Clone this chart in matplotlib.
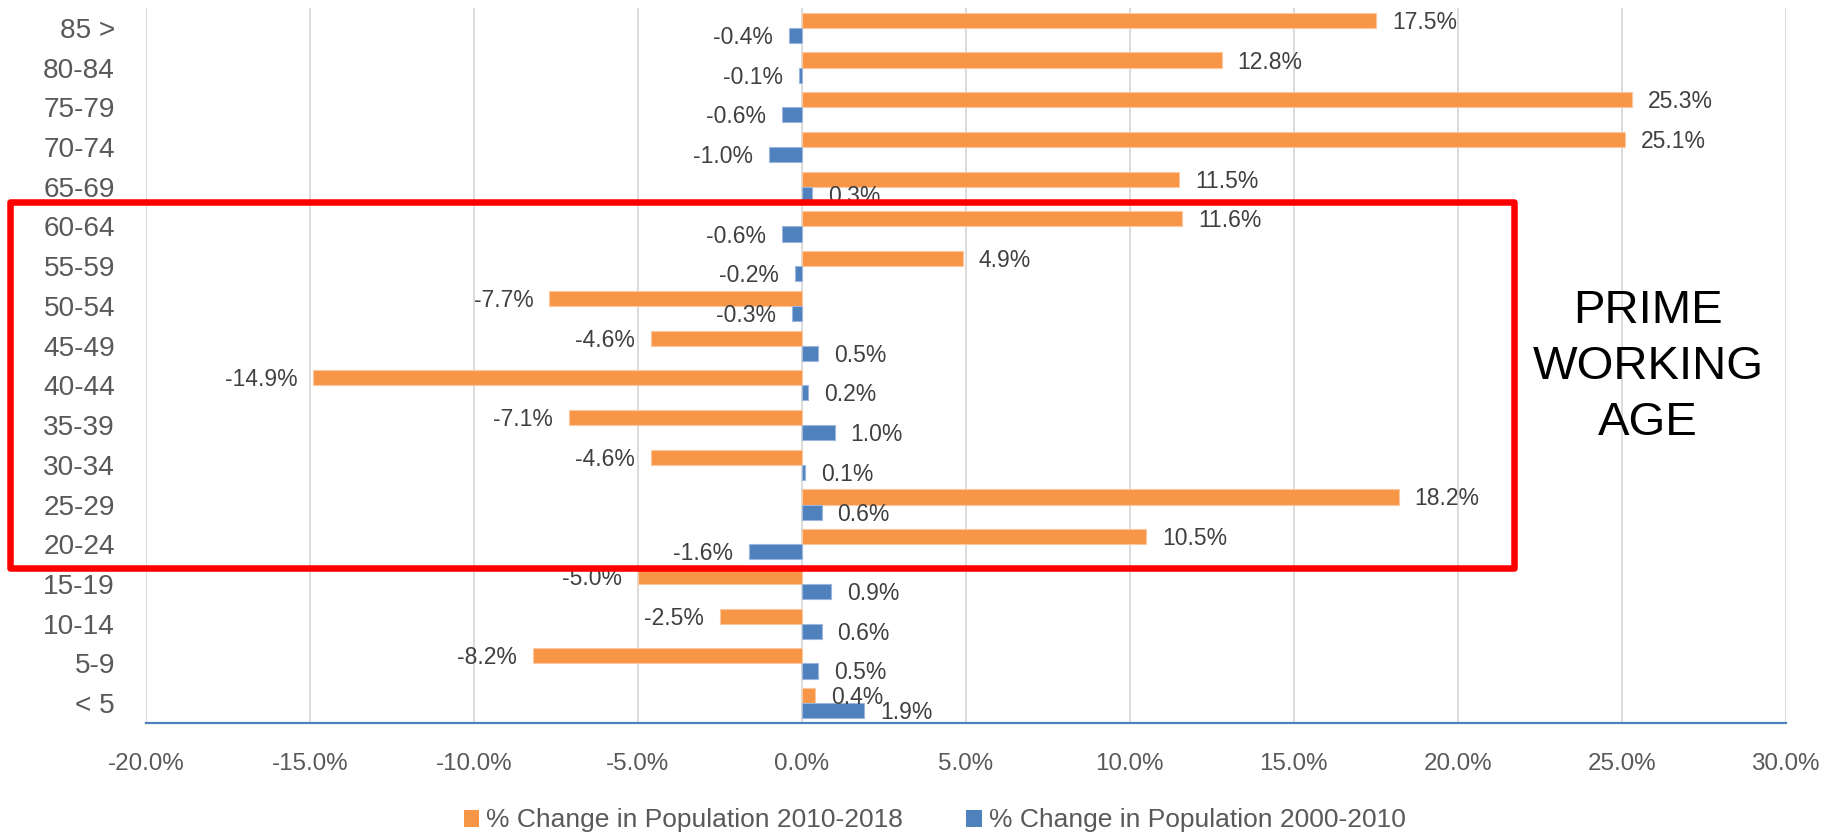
import numpy as np
import matplotlib
matplotlib.use("Agg")
import matplotlib.pyplot as plt
from matplotlib.patches import Rectangle, Patch

plt.rcParams['font.family'] = ['Liberation Sans', 'DejaVu Sans']

# ---- data (top to bottom) ----
categories = ['85 >', '80-84', '75-79', '70-74', '65-69', '60-64', '55-59', '50-54',
              '45-49', '40-44', '35-39', '30-34', '25-29', '20-24', '15-19', '10-14',
              '5-9', '< 5']
change_2010_2018 = [17.5, 12.8, 25.3, 25.1, 11.5, 11.6, 4.9, -7.7, -4.6, -14.9,
                    -7.1, -4.6, 18.2, 10.5, -5.0, -2.5, -8.2, 0.4]
change_2000_2010 = [-0.4, -0.1, -0.6, -1.0, 0.3, -0.6, -0.2, -0.3, 0.5, 0.2,
                    1.0, 0.1, 0.6, -1.6, 0.9, 0.6, 0.5, 1.9]
series_labels = ['% Change in Population 2010-2018', '% Change in Population 2000-2010']
x_ticks = [-20, -15, -10, -5, 0, 5, 10, 15, 20, 25, 30]
annotation = 'PRIME\nWORKING\nAGE'

ORANGE = '#F79646'
BLUE = '#4F81BD'
W, H = 1839, 834

fig = plt.figure(figsize=(W / 100, H / 100), dpi=100)
ax = fig.add_axes([146 / W, 1 - 723 / H, (1785.7 - 146) / W, (723 - 8) / H])

y = np.arange(len(categories))
h = 0.38
bars_o = ax.barh(y - h / 2, change_2010_2018, height=h, color=ORANGE,
                 edgecolor='#FBC79E', linewidth=0.8, zorder=3)
bars_b = ax.barh(y + h / 2, change_2000_2010, height=h, color=BLUE,
                 edgecolor='#9DB6DB', linewidth=0.8, zorder=3)

for vals, offs in ((change_2010_2018, -h / 2), (change_2000_2010, h / 2)):
    for yi, v in zip(y, vals):
        dx = 16 if v >= 0 else -16
        ax.annotate(f'{v:.1f}%', xy=(v, yi + offs), xytext=(dx, -2),
                    textcoords='offset pixels', ha='left' if v >= 0 else 'right',
                    va='center', fontsize=16.5, color='#404040', zorder=4)

ax.set_xlim(-20, 30)
ax.set_ylim(len(categories) - 0.5, -0.5)
ax.set_xticks(x_ticks)
ax.set_xticklabels([f'{t:.1f}%' for t in x_ticks], fontsize=17.4, color='#595959')
ax.set_yticks(y)
ax.set_yticklabels(categories, fontsize=20.2, color='#595959')
ax.tick_params(axis='x', length=0, pad=21.3)
ax.tick_params(axis='y', length=0, pad=22.3)
ax.xaxis.grid(True, color='#D9D9D9', linewidth=1.3, zorder=0)
ax.set_axisbelow(True)
for s in ('top', 'right', 'left'):
    ax.spines[s].set_visible(False)
ax.spines['bottom'].set_color(BLUE)
ax.spines['bottom'].set_linewidth(1.6)
ax.spines['bottom'].set_zorder(5)

# red box around prime working age
box = Rectangle((10 / W, 1 - 568 / H), (1514 - 10) / W, (568 - 202) / H,
                transform=fig.transFigure, fill=False, edgecolor='#FF0000',
                linewidth=4.7, joinstyle='round', zorder=10)
fig.add_artist(box)

fig.text(1648 / W, 1 - 367 / H, annotation, ha='center', va='center',
         fontsize=34, color='black', linespacing=1.36, zorder=11)

handles = [Patch(facecolor=ORANGE), Patch(facecolor=BLUE)]
leg = fig.legend(handles, series_labels, loc='center', bbox_to_anchor=(934.5 / W, 1 - 820.5 / H),
                 ncol=2, frameon=False, fontsize=19, handlelength=0.6, handleheight=0.6,
                 handletextpad=0.25, columnspacing=2.4)
for t in leg.get_texts():
    t.set_color('#595959')

fig.savefig('out.png', dpi=100)
